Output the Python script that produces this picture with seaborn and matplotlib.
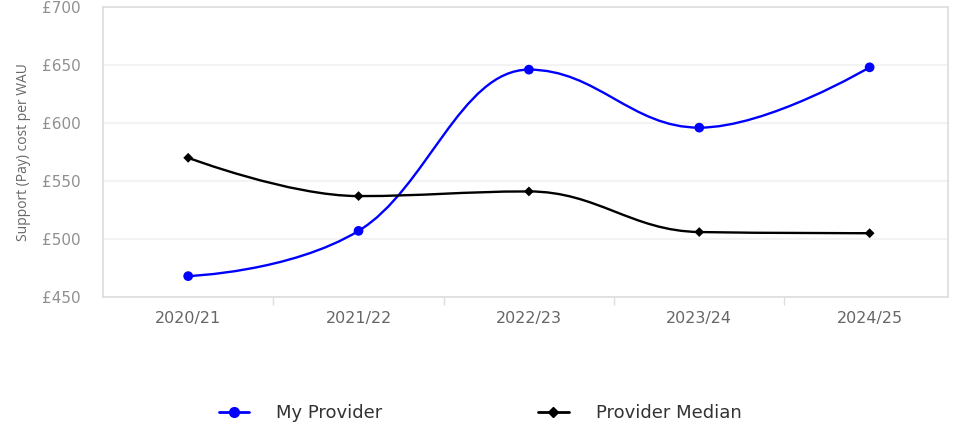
import numpy as np
import pandas as pd
import matplotlib
matplotlib.use("Agg")
import matplotlib.pyplot as plt
from matplotlib.path import Path
from matplotlib.patches import PathPatch
from matplotlib.lines import Line2D
from matplotlib.ticker import FixedLocator, FuncFormatter
import seaborn as sns

# Chart data
years = ["2020/21", "2021/22", "2022/23", "2023/24", "2024/25"]
my_provider = [468, 507, 646, 596, 648]
provider_median = [570, 537, 541, 506, 505]
y_ticks = [450, 500, 550, 600, 650, 700]

df = pd.DataFrame({
    "year": years * 2,
    "cost": my_provider + provider_median,
    "series": ["My Provider"] * len(years) + ["Provider Median"] * len(years),
})
df["pos"] = df.groupby("series").cumcount()

colors = {"My Provider": "#0000ff", "Provider Median": "#000000"}
markers = {"My Provider": "o", "Provider Median": "D"}
msizes = {"My Provider": 7, "Provider Median": 5}


def spline_path(xs, ys, smoothing=1.5):
    """Cubic Bezier path through the points, using spline-style control points."""
    n = len(xs)
    verts = [(xs[0], ys[0])]
    codes = [Path.MOVETO]
    right_prev = (xs[0], ys[0])
    denom = smoothing + 1
    for i in range(1, n):
        px, py = xs[i], ys[i]
        lx, ly = xs[i - 1], ys[i - 1]
        if i < n - 1:
            nx, ny = xs[i + 1], ys[i + 1]
            lcx = (smoothing * px + lx) / denom
            lcy = (smoothing * py + ly) / denom
            rcx = (smoothing * px + nx) / denom
            rcy = (smoothing * py + ny) / denom
            corr = 0.0
            if rcx != lcx:
                corr = (rcy - lcy) * (rcx - px) / (rcx - lcx) + py - rcy
            lcy += corr
            rcy += corr
            if lcy > ly and lcy > py:
                lcy = max(ly, py)
                rcy = 2 * py - lcy
            elif lcy < ly and lcy < py:
                lcy = min(ly, py)
                rcy = 2 * py - lcy
            if rcy > ny and rcy > py:
                rcy = max(ny, py)
                lcy = 2 * py - rcy
            elif rcy < ny and rcy < py:
                rcy = min(ny, py)
                lcy = 2 * py - rcy
            left_c = (lcx, lcy)
            right_c = (rcx, rcy)
        else:
            left_c = (px, py)
            right_c = None
        verts += [right_prev, left_c, (px, py)]
        codes += [Path.CURVE4] * 3
        right_prev = right_c
    return Path(verts, codes)


sns.set_theme(style="white")
plt.rcParams["font.family"] = ["DejaVu Sans"]

fig = plt.figure(figsize=(9.56, 4.25), dpi=100)
ax = fig.add_axes([103 / 956, 1 - 297 / 425, (948 - 103) / 956, (297 - 7) / 425])

for name, sub in df.groupby("series"):
    path = spline_path(sub["pos"].to_numpy(float), sub["cost"].to_numpy(float))
    ax.add_patch(PathPatch(path, facecolor="none", edgecolor=colors[name],
                           lw=1.7, zorder=3))

sns.scatterplot(data=df, x="pos", y="cost", hue="series", style="series",
                palette=colors, markers=markers, size="series",
                sizes={k: v ** 2 for k, v in msizes.items()},
                edgecolor="none", legend=False, ax=ax, zorder=4)

ax.set_xlim(-0.5, 4.46)
ax.set_ylim(450, 700)

ax.set_xticks(range(len(years)))
ax.set_xticklabels(years)
ax.xaxis.set_minor_locator(FixedLocator([0.5, 1.5, 2.5, 3.5]))
ax.tick_params(axis="x", which="major", length=0, pad=10, labelsize=11.5, labelcolor="#666666")
ax.tick_params(axis="x", which="minor", length=6, color="#dddddd", width=1, direction="out")
ax.tick_params(axis="x", which="minor", bottom=True)

ax.set_yticks(y_ticks)
ax.yaxis.set_major_formatter(FuncFormatter(lambda v, p: f"£{v:.0f}"))
ax.tick_params(axis="y", length=0, pad=16, labelsize=11, labelcolor="#909090")
ax.set_ylabel("Support (Pay) cost per WAU", fontsize=10, color="#666666",
              family=["Open Sans", "DejaVu Sans"], labelpad=8)
ax.set_xlabel("")

ax.grid(axis="y", color="#f3f3f3", lw=1.5)
ax.set_axisbelow(True)
for side, sp in ax.spines.items():
    sp.set_color("#dddddd")
    sp.set_linewidth(1.2)

handles = [
    Line2D([0], [0], color=colors["My Provider"], lw=2, marker="o", markersize=7),
    Line2D([0], [0], color=colors["Provider Median"], lw=2, marker="D", markersize=5),
]
fig.legend(handles, ["My Provider", "Provider Median"], loc="center",
           bbox_to_anchor=(480 / 956, 1 - 413 / 425), ncol=2, frameon=False,
           handlelength=1.7, handletextpad=1.5, columnspacing=8.6, fontsize=13,
           labelcolor="#333333")

fig.savefig("out.png", dpi=100, facecolor="white")
